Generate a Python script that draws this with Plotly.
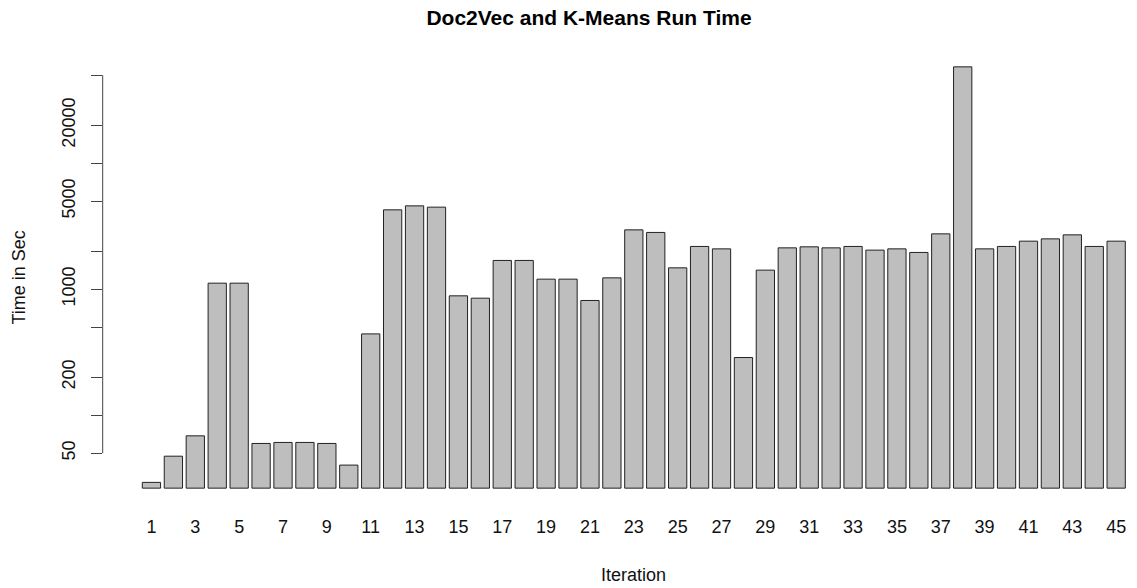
import math
import plotly.graph_objects as go

# Run time (seconds) of each Doc2Vec + K-Means iteration
iterations = list(range(1, 46))
run_time = [
    29.3, 47.3, 68.6, 1117, 1117, 59.7, 60.8, 60.8, 59.7, 40.2,
    442, 4266, 4588, 4481, 886, 849, 1692, 1692, 1202, 1202,
    814, 1231, 2959, 2822, 1478, 2185, 2091, 287, 1417, 2130,
    2170, 2130, 2185, 2043, 2091, 1958, 2751, 58200, 2091, 2185,
    2407, 2510, 2701, 2185, 2407,
]
y_tick_vals = [50, 100, 200, 500, 1000, 2000, 5000, 10000, 20000, 50000]
y_tick_text = ["50", "", "200", "", "1000", "", "5000", "", "20000", ""]
x_tick_vals = list(range(1, 46, 2))

# bars rise from 90% of the smallest value, as in a log-scale barplot
base = 0.9 * min(run_time)
lo = math.log10(base)
hi = math.log10(max(run_time))
pad = 0.04 * (hi - lo)
y_lo, y_hi = lo - pad, hi + pad


def to_paper(v):
    """Position of a data value as a fraction of the plot height."""
    return (math.log10(v) - y_lo) / (y_hi - y_lo)


FONT = "Liberation Sans, Arial, sans-serif"

fig = go.Figure(
    go.Bar(
        x=iterations,
        y=[v - base for v in run_time],
        base=base,
        width=1 / 1.2,
        marker=dict(color="#bebebe", line=dict(color="#222222", width=1)),
        hoverinfo="skip",
    )
)

# y axis line spans only the tick range
fig.add_shape(
    type="line", xref="paper", yref="paper",
    x0=-0.0003, x1=-0.0003,
    y0=to_paper(y_tick_vals[0]), y1=to_paper(y_tick_vals[-1]),
    line=dict(color="#444444", width=1),
)

fig.update_layout(
    width=1137,
    height=588,
    margin=dict(l=103, r=0, t=50, b=83),
    plot_bgcolor="white",
    paper_bgcolor="white",
    showlegend=False,
    font=dict(family=FONT, size=18, color="#111111"),
    title=dict(
        text="Doc2Vec and K-Means Run Time",
        font=dict(family=FONT, size=21, color="#000000", weight="bold"),
        xref="container", yref="container",
        x=589 / 1137, y=1 - 18 / 588,
        xanchor="center", yanchor="middle",
    ),
    xaxis=dict(
        range=[-1.21, 45.95],
        tickmode="array",
        tickvals=x_tick_vals,
        ticktext=[str(v) for v in x_tick_vals],
        showgrid=False, zeroline=False, showline=False,
        ticks="", ticklabelstandoff=9,
        tickfont=dict(size=18),
    ),
    yaxis=dict(
        type="log",
        range=[y_lo, y_hi],
        tickmode="array",
        tickvals=y_tick_vals,
        ticktext=y_tick_text,
        tickangle=-90,
        showgrid=False, zeroline=False, showline=False,
        ticks="outside", ticklen=11, tickwidth=1, tickcolor="#444444",
        ticklabelstandoff=9,
        tickfont=dict(size=18),
    ),
    annotations=[
        dict(
            text="Time in Sec", xref="paper", yref="paper",
            x=(18 - 103) / 1034, y=0.5, textangle=-90,
            showarrow=False, xanchor="center", yanchor="middle",
            font=dict(family=FONT, size=18, color="#111111"),
        ),
        dict(
            text="Iteration", xref="paper", yref="paper",
            x=(633 - 103) / 1034, y=(505 - 575) / 455,
            showarrow=False, xanchor="center", yanchor="middle",
            font=dict(family=FONT, size=18, color="#111111"),
        ),
    ],
)

fig.write_html("out.html")
